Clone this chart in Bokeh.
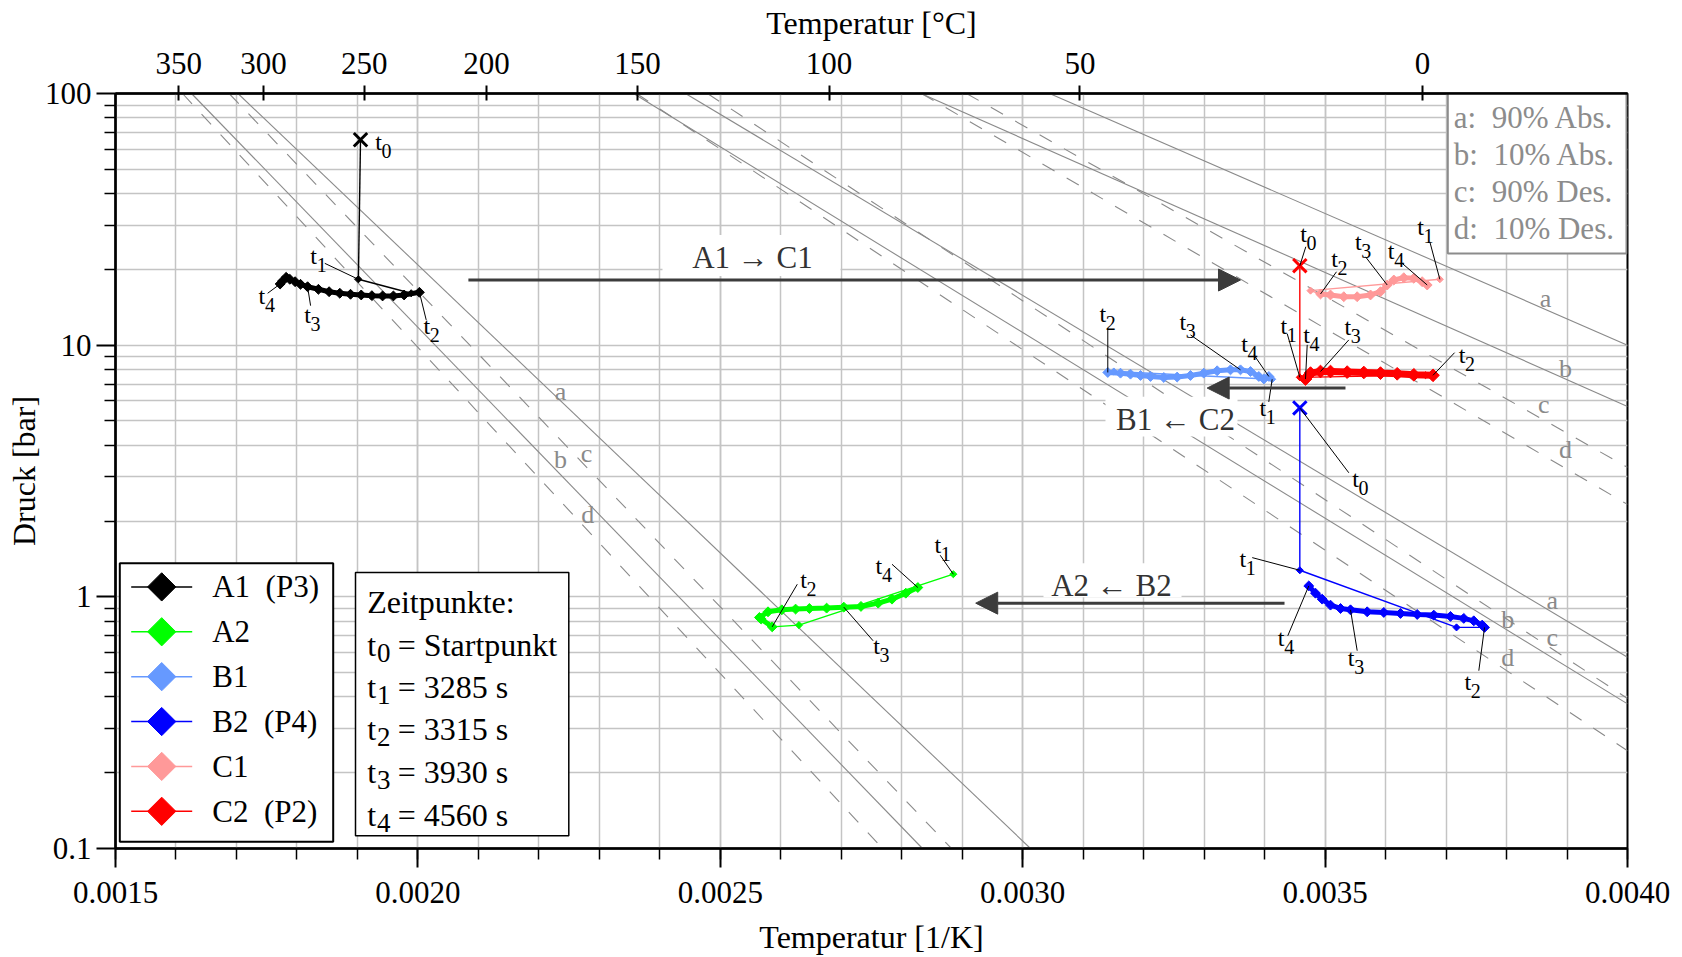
import math
from bokeh.plotting import figure
from bokeh.models import (LinearAxis, FixedTicker, CustomJSTickFormatter,
                          PrintfTickFormatter, Arrow, NormalHead, Range1d)
from bokeh.core.properties import value
from bokeh.embed import file_html
from bokeh.resources import INLINE

FONT = "Liberation Serif"

# ---------------- axes ----------------
X_LO, X_HI = 0.0015, 0.0040
Y_LO, Y_HI = 0.1, 100.0
x_major_ticks = [0.0015, 0.0020, 0.0025, 0.0030, 0.0035, 0.0040]
x_minor_ticks = [0.0015, 0.0016, 0.0017, 0.0018, 0.0019, 0.0020, 0.0021, 0.0022, 0.0023,
                 0.0024, 0.0025, 0.0026, 0.0027, 0.0028, 0.0029, 0.0030, 0.0031, 0.0032,
                 0.0033, 0.0034, 0.0035, 0.0036, 0.0037, 0.0038, 0.0039, 0.0040]
y_major_ticks = [0.1, 1, 10, 100]
y_minor_ticks = [0.2, 0.3, 0.4, 0.5, 0.6, 0.7, 0.8, 0.9,
                 2, 3, 4, 5, 6, 7, 8, 9,
                 20, 30, 40, 50, 60, 70, 80, 90]
temp_ticks_c = [350, 300, 250, 200, 150, 100, 50, 0]

# ---------------- isosteres (a,b: solid ; c,d: dashed) ----------------
iso_name = ["a", "b", "c", "d"] * 3
iso_dashed = [False, False, True, True] * 3
iso_p_top = [100.0] * 12
iso_x_top = [0.0017025, 0.0016257, 0.0016878, 0.0016108,
             0.0024424, 0.0023565, 0.0024788, 0.0023615,
             0.0030443, 0.0028318, 0.0029070, 0.0028326]
iso_x_end = [0.0030129, 0.0028343, 0.0028823, 0.0027682,
             0.0040, 0.0040, 0.0040, 0.0040,
             0.0040, 0.0040, 0.0040, 0.0040]
iso_p_end = [0.1, 0.1, 0.1, 0.1,
             0.5752, 0.3755, 0.3945, 0.2446,
             10.0, 5.71, 3.27, 2.33]
letter_x = [0.0022358, 0.0022358, 0.0022788, 0.0022809,
            0.0038755, 0.0038021, 0.0038755, 0.0038021,
            0.0038644, 0.0038975, 0.0038616, 0.0038975]
letter_p = [6.551, 3.512, 3.710, 2.127,
            0.9638, 0.8157, 0.6902, 0.5749,
            15.36, 8.11, 5.80, 3.848]

# ---------------- measured series ----------------
A1_x = [0.0019051, 0.0019016, 0.0019889, 0.0020025, 0.0019772, 0.0019595, 0.0019416,
        0.0019239, 0.0019063, 0.0018886, 0.0018709, 0.0018532, 0.0018355, 0.0018176,
        0.0018059, 0.0017970, 0.0017882, 0.0017822, 0.0017763, 0.0017722]
A1_p = [65.5, 18.27, 16.08, 16.22, 15.83, 15.69, 15.69, 15.73, 15.83, 15.93, 16.08,
        16.31, 16.67, 17.07, 17.45, 17.87, 18.27, 18.61, 17.99, 17.50]

A2_x = [0.0028853, 0.0026301, 0.0025858, 0.0025676, 0.0025647, 0.0025789, 0.0026017,
        0.0026245, 0.0026473, 0.0026758, 0.0027042, 0.0027326, 0.0027611, 0.0027839,
        0.0028067, 0.0028266]
A2_p = [1.230, 0.772, 0.760, 0.816, 0.828, 0.872, 0.888, 0.894, 0.899, 0.902, 0.910,
        0.916, 0.944, 0.979, 1.034, 1.089]

B1_x = [0.0034125, 0.0031506, 0.0031407, 0.0031617, 0.0031782, 0.0031948, 0.0032113,
        0.0032333, 0.0032554, 0.0032774, 0.0032994, 0.0033215, 0.0033436, 0.0033601,
        0.0033766, 0.0033904, 0.0033987, 0.0034070]
B1_p = [7.32, 7.86, 7.79, 7.74, 7.67, 7.58, 7.51, 7.44, 7.47, 7.58, 7.74, 7.91, 7.98,
        7.98, 7.86, 7.51, 7.34, 7.51]

B2_x = [0.0034582, 0.0034582, 0.0037173, 0.0037636, 0.0037597, 0.0037458, 0.0037293,
        0.0037073, 0.0036797, 0.0036523, 0.0036247, 0.0035971, 0.0035696, 0.0035420,
        0.0035255, 0.0035089, 0.0034952, 0.0034841, 0.0034730]
B2_p = [5.63, 1.275, 0.756, 0.756, 0.772, 0.803, 0.821, 0.836, 0.846, 0.851, 0.859,
        0.867, 0.872, 0.888, 0.899, 0.927, 0.979, 1.034, 1.105]

C1_x = [0.0036897, 0.0034759, 0.0034924, 0.0035089, 0.0035309, 0.0035530, 0.0035751,
        0.0035916, 0.0036027, 0.0036136, 0.0036301, 0.0036467, 0.0036605, 0.0036688]
C1_p = [18.27, 16.47, 15.97, 15.83, 15.58, 15.58, 15.83, 16.31, 17.34, 18.15, 18.54,
        18.44, 17.87, 17.34]

C2_x = [0.0034582, 0.0034582, 0.0036660, 0.0036784, 0.0036467, 0.0036192, 0.0035916,
        0.0035640, 0.0035365, 0.0035089, 0.0034924, 0.0034759, 0.0034676]
C2_p = [20.69, 7.45, 7.60, 7.59, 7.625, 7.695, 7.744, 7.787, 7.815, 7.858, 7.858,
        7.744, 7.335]

series_names = ["A1\u00a0 (P3)", "A2", "B1", "B2\u00a0 (P4)", "C1", "C2\u00a0 (P2)"]
series_colors = ["#000000", "#00ff00", "#6699ff", "#0000ff", "#ff9999", "#ff0000"]

zeit_digits = ["0", "1", "2", "3", "4"]
zeit_texts = ["= Startpunkt", "= 3285 s", "= 3315 s", "= 3930 s", "= 4560 s"]
iso_legend = ["a:\u00a0\u00a090% Abs.", "b:\u00a0\u00a010% Abs.",
              "c:\u00a0\u00a090% Des.", "d:\u00a0\u00a010% Des."]

arrow_text = ["A1 \u2192 C1", "B1 \u2190 C2", "A2 \u2190 B2"]
arrow_x_start = [0.0020835, 0.0035337, 0.0034329]
arrow_x_end = [0.0033601, 0.0033050, 0.0029223]
arrow_p = [18.15, 6.755, 0.9438]

# ---------------- layout helpers (frame geometry in pixels) ----------------
FL, FT, FW, FH = 115, 93, 1512, 757
XPP = (X_HI - X_LO) / FW
DPP = 3.0 / FH


def px_x(px):
    return X_LO + (px - FL) * XPP


def px_y(py):
    return 10 ** (math.log10(Y_HI) - (py - FT) * DPP)


# label specs: (point index, subscript, t-offset dx, dy, pointer-end dx, dy) in px
A1_labels = [(0, "0", 18, 2, None, None), (1, "1", -44.7, -23.6, -33.6, -16),
             (3, "2", 7.4, 33.5, 6.8, 27.7), (13, "3", 0, 28.3, 3, 19),
             (19, "4", -18.2, 12, -12.5, 9.3)]
A2_labels = [(0, "1", -15.5, -29, -13.1, -19), (2, "2", 31.3, -47, 25.1, -42.7),
             (10, "3", 32.7, 38.7, 29.3, 33.7), (15, "4", -38.9, -21.6, -25.8, -23.3)]
B1_labels = [(0, "1", -9.4, 29.3, -3.4, 22.7), (2, "2", -5, -58.7, 0, -44.4),
             (13, "3", -57.7, -47.7, -50, -35), (17, "4", -24.3, -32.7, -15, -21.7)]
B2_labels = [(0, "0", 55.7, 71.7, 49, 65), (1, "1", -57, -11.7, -47.6, -12.7),
             (3, "2", -16.7, 55, -5.7, 43.4), (13, "3", 0.7, 48.6, 6.7, 41),
             (18, "4", -27.6, 52.6, -21, 50)]
C1_labels = [(0, "1", -19.3, -52, -10, -37.6), (2, "2", 14, -35, 16, -22.3),
             (8, "3", -29, -42.7, -21.7, -28.3), (13, "4", -36, -34.3, -25, -21.7)]
C2_labels = [(0, "0", 3.7, -31.7, 6, -19), (1, "1", -16, -51.3, -12.6, -43.7),
             (3, "2", 29, -20.3, 21.6, -22.7), (10, "3", 27.3, -44.4, 28.3, -31.7),
             (12, "4", 1, -44.3, 1.7, -34.3)]

# ---------------- figure ----------------
p = figure(width=1682, height=957, x_range=Range1d(X_LO, X_HI), y_range=Range1d(Y_LO, Y_HI),
           y_axis_type="log", output_backend="svg", toolbar_location=None,
           min_border_left=115, min_border_right=55, min_border_top=93, min_border_bottom=107)
p.background_fill_color = "white"
p.border_fill_color = "white"
p.outline_line_color = "black"
p.outline_line_width = 2

xt = FixedTicker(ticks=x_major_ticks, minor_ticks=x_minor_ticks)
yt = FixedTicker(ticks=y_major_ticks, minor_ticks=y_minor_ticks)
xa = p.xaxis[0]
ya = p.yaxis[0]
xa.ticker = xt
ya.ticker = yt
xa.formatter = PrintfTickFormatter(format="%.4f")
ya.formatter = CustomJSTickFormatter(code="return tick < 0.5 ? tick.toFixed(1) : tick.toFixed(0);")
xa.axis_label = "Temperatur [1/K]"
ya.axis_label = "Druck [bar]"

top = LinearAxis(ticker=FixedTicker(ticks=[1.0 / (t + 273.15) for t in temp_ticks_c]),
                 formatter=CustomJSTickFormatter(
                     code="var v = Math.round(1/tick - 273.15); return String(Math.abs(v) < 0.5 ? 0 : v);"),
                 axis_label="Temperatur [\u00b0C]")
p.add_layout(top, "above")

for ax in (xa, ya, top):
    ax.axis_line_width = 2.5
    ax.axis_line_color = "black"
    ax.major_tick_line_color = "black"
    ax.major_tick_line_width = 2
    ax.minor_tick_line_color = "black"
    ax.minor_tick_line_width = 1.5
    ax.major_label_text_font = FONT
    ax.major_label_text_font_size = "31px"
    ax.major_label_text_color = "black"
    ax.axis_label_text_font = FONT
    ax.axis_label_text_font_size = "32px"
    ax.axis_label_text_font_style = "normal"
    ax.axis_label_text_color = "black"

for ax in (xa, ya):
    ax.major_tick_out = 19
    ax.major_tick_in = 0
    ax.minor_tick_out = 11
    ax.minor_tick_in = 0
xa.major_label_standoff = 14
xa.axis_label_standoff = 13
ya.major_label_standoff = 5
ya.axis_label_standoff = 0
top.major_tick_in = 7
top.major_tick_out = 8
top.minor_tick_out = 0
top.major_label_standoff = 12
top.axis_label_standoff = 9

GRID = "#c4c4c4"
p.xgrid.ticker = xt
p.ygrid.ticker = yt
for g in (p.xgrid, p.ygrid):
    g.grid_line_color = GRID
    g.grid_line_width = 1.5
    g.minor_grid_line_color = GRID
    g.minor_grid_line_width = 1.5

# ---------------- isosteres ----------------
ISO = "#8a8a8a"
for i in range(len(iso_name)):
    p.line([iso_x_top[i], iso_x_end[i]], [iso_p_top[i], iso_p_end[i]],
           line_color=ISO, line_width=1.1,
           line_dash="14 14" if iso_dashed[i] else "solid")
p.text(letter_x, letter_p, text=iso_name, text_font=value(FONT), text_font_size="26px",
       text_color=ISO, text_align="center", text_baseline="middle")

# ---------------- arrows ----------------
ARW = "#3c3c3c"
label_boxes = [(662, 840, 235, 276), (1105, 1237, 397, 437), (1043, 1181, 564, 598)]
for (l, r, t, b) in label_boxes:
    p.quad(left=px_x(l), right=px_x(r), top=px_y(t), bottom=px_y(b),
           fill_color="white", line_color=None)
arrow_lab_x = [px_x(752), px_x(1175), px_x(1111)]
arrow_lab_p = [px_y(257.5), px_y(419.5), px_y(586)]
p.text(arrow_lab_x, arrow_lab_p, text=arrow_text, text_font=value(FONT), text_font_size="31px",
       text_color="#333333", text_align="center", text_baseline="middle")
for i in range(3):
    p.add_layout(Arrow(end=NormalHead(size=22, fill_color=ARW, line_color=ARW, line_width=1),
                       x_start=arrow_x_start[i], y_start=arrow_p[i],
                       x_end=arrow_x_end[i], y_end=arrow_p[i],
                       line_color=ARW, line_width=3))


# ---------------- series ----------------
def draw_series(xs, ps, color, has_t0, band_w):
    start = 1 if has_t0 else 0
    t2 = start + 2
    if has_t0:
        p.line(xs[0:2], ps[0:2], line_color=color, line_width=1.4)
    p.line(xs[start:t2 + 1], ps[start:t2 + 1], line_color=color, line_width=1.4)
    p.line(xs[t2:], ps[t2:], line_color=color, line_width=band_w, line_join="round",
           line_cap="round")
    p.scatter(xs[start:t2 + 1], ps[start:t2 + 1], marker="square", angle=math.pi / 4,
              size=5, fill_color=color, line_color=color)
    p.scatter(xs[t2:], ps[t2:], marker="square", angle=math.pi / 4,
              size=band_w + 2, fill_color=color, line_color=color)
    if has_t0:
        p.scatter([xs[0]], [ps[0]], marker="x", size=19, line_color=color, line_width=3)


draw_series(A1_x, A1_p, series_colors[0], True, 5)
draw_series(A2_x, A2_p, series_colors[1], False, 5)
draw_series(B1_x, B1_p, series_colors[2], False, 5)
draw_series(B2_x, B2_p, series_colors[3], True, 5)
draw_series(C1_x, C1_p, series_colors[4], False, 5)
draw_series(C2_x, C2_p, series_colors[5], True, 7)

# ---------------- time-point labels ----------------
tx, tp, dg, s0x, s0p, s1x, s1p = [], [], [], [], [], [], []
for xs, ps, labs in [(A1_x, A1_p, A1_labels), (A2_x, A2_p, A2_labels),
                     (B1_x, B1_p, B1_labels), (B2_x, B2_p, B2_labels),
                     (C1_x, C1_p, C1_labels), (C2_x, C2_p, C2_labels)]:
    for idx, d, lx, ly, ex, ey in labs:
        x0, p0 = xs[idx], ps[idx]
        tx.append(x0 + lx * XPP)
        tp.append(p0 * 10 ** (-ly * DPP))
        dg.append(d)
        if ex is not None:
            s0x.append(x0)
            s0p.append(p0)
            s1x.append(x0 + ex * XPP)
            s1p.append(p0 * 10 ** (-ey * DPP))
p.segment(s0x, s0p, s1x, s1p, line_color="black", line_width=1)
p.text(tx, tp, text=["t"] * len(tx), text_font=value(FONT), text_font_size="24px",
       text_color="black", text_align="center", text_baseline="middle")
p.text(tx, tp, text=dg, text_font=value(FONT), text_font_size="20px",
       text_color="black", text_align="center", text_baseline="middle",
       x_offset=8, y_offset=9)

# ---------------- top-right isostere key ----------------
p.quad(left=px_x(1447.3), right=px_x(1626), top=px_y(92), bottom=px_y(253.3),
       fill_color="white", line_color="#8c8c8c", line_width=2)
p.text([px_x(1453.3)] * 4, [px_y(117.5), px_y(154.5), px_y(191.5), px_y(228.5)],
       text=iso_legend, text_font=value(FONT), text_font_size="31px",
       text_color="#8c8c8c", text_align="left", text_baseline="middle")

# ---------------- series legend ----------------
p.quad(left=px_x(119.3), right=px_x(332.7), top=px_y(564), bottom=px_y(843.3),
       fill_color="white", line_color="black", line_width=2)
row_y = [px_y(587.7 + 45 * i) for i in range(6)]
for i in range(6):
    p.line([px_x(130.7), px_x(191.7)], [row_y[i], row_y[i]],
           line_color=series_colors[i], line_width=1.5)
p.scatter([px_x(161.2)] * 6, row_y, marker="square", angle=math.pi / 4, size=20,
          fill_color=series_colors, line_color=series_colors)
p.text([px_x(211.7)] * 6, row_y, text=series_names, text_font=value(FONT),
       text_font_size="31px", text_color="black", text_align="left", text_baseline="middle")

# ---------------- Zeitpunkte box ----------------
p.quad(left=px_x(355), right=px_x(568.3), top=px_y(573.3), bottom=px_y(837.3),
       fill_color="white", line_color="black", line_width=1.5)
p.text([px_x(366.7)], [px_y(602.9)], text=["Zeitpunkte:"], text_font=value(FONT),
       text_font_size="32px", text_color="black", text_align="left",
       text_baseline="middle")
zy = [px_y(645.8), px_y(687.6), px_y(730.5), px_y(773.4), px_y(816.3)]
p.text([px_x(366.7)] * 5, zy, text=["t"] * 5, text_font=value(FONT),
       text_font_size="32px", text_color="black", text_align="left",
       text_baseline="middle")
p.text([px_x(376.5)] * 5, zy, text=zeit_digits, text_font=value(FONT),
       text_font_size="27px", text_color="black", text_align="left",
       text_baseline="middle", y_offset=8)
p.text([px_x(397.3)] * 5, zy, text=zeit_texts, text_font=value(FONT),
       text_font_size="32px", text_color="black", text_align="left",
       text_baseline="middle")

open("out.html", "w").write(file_html(p, INLINE))
